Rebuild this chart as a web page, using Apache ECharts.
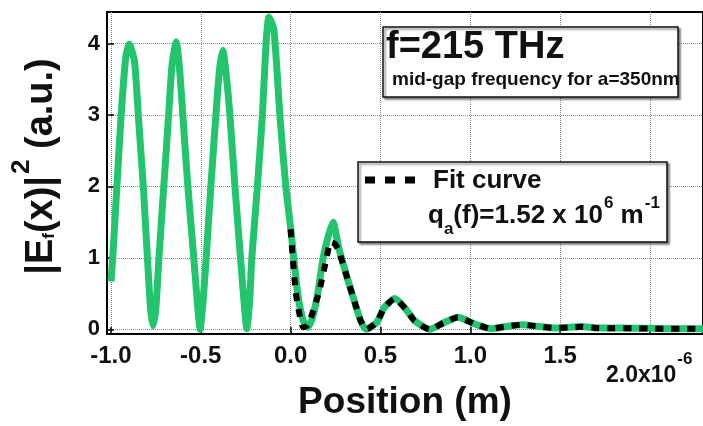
<!DOCTYPE html>
<html><head><meta charset="utf-8">
<script src="https://cdn.jsdelivr.net/npm/echarts@6/dist/echarts.min.js"></script>
<style>html,body{margin:0;padding:0;background:#fff}#c{width:703px;height:426px}</style>
</head><body><div id="c"></div>
<script>
// x in units of 1e-6 m
const xTicks = [-1.0, -0.5, 0.0, 0.5, 1.0, 1.5, 2.0];
const yTicks = [0, 1, 2, 3, 4];
const fieldX = [-1.0,-0.99,-0.967,-0.943,-0.918,-0.898,-0.869,-0.848,-0.82,-0.797,-0.78,-0.766,-0.75,-0.733,-0.706,-0.679,-0.66,-0.637,-0.62,-0.6,-0.572,-0.539,-0.52,-0.504,-0.487,-0.47,-0.444,-0.416,-0.395,-0.377,-0.36,-0.338,-0.31,-0.279,-0.26,-0.244,-0.228,-0.216,-0.185,-0.157,-0.137,-0.121,-0.093,-0.06,-0.027,0.0,0.04,0.07,0.095,0.12,0.15,0.184,0.236,0.269,0.315,0.36,0.39,0.42,0.48,0.52,0.58,0.645,0.69,0.774,0.85,0.932,1.02,1.116,1.2,1.29,1.38,1.475,1.55,1.62,1.7,1.8,1.9,2.0,2.1,2.2,2.3];
const fieldY = [0.67,1.0,2.0,3.0,3.8,3.99,3.75,3.0,2.0,1.0,0.3,0.05,0.3,1.0,2.0,3.0,3.7,4.02,3.7,3.0,2.0,1.0,0.4,0.0,0.4,1.0,2.0,3.0,3.65,3.90,3.6,3.0,2.0,1.0,0.4,0.01,0.4,1.0,2.0,3.0,4.0,4.37,4.19,3.0,2.0,1.42,0.49,0.12,0.03,0.15,0.49,1.04,1.50,1.13,0.72,0.35,0.12,0.0,0.1,0.3,0.43,0.27,0.12,0.0,0.09,0.17,0.08,0.01,0.04,0.065,0.04,0.02,0.03,0.04,0.02,0.02,0.015,0.015,0.01,0.01,0.01];
const fitX = [0.0,0.012,0.03,0.054,0.07,0.09,0.113,0.16,0.196,0.223,0.245,0.269,0.315,0.36,0.39,0.42,0.48,0.52,0.58,0.645,0.69,0.774,0.85,0.932,1.02,1.116,1.2,1.29,1.38,1.475,1.55,1.62,1.7,1.8,1.9,2.0,2.1,2.2,2.3];
const fitY = [1.40,0.99,0.49,0.15,0.03,0.05,0.17,0.54,0.95,1.22,1.2,1.09,0.72,0.35,0.12,0.0,0.1,0.3,0.43,0.27,0.12,0.0,0.09,0.17,0.08,0.01,0.04,0.065,0.04,0.02,0.025,0.035,0.02,0.015,0.015,0.01,0.01,0.01,0.01];

const FONT = 'Liberation Sans, Arial, sans-serif';
const chart = echarts.init(document.getElementById('c'), null, {renderer: 'canvas'});
const pairs = (xs, ys) => xs.map((x, i) => [x, ys[i]]);

chart.setOption({
  animation: false,
  backgroundColor: '#fff',
  grid: {left: 107, top: 12, right: -3, bottom: 85, show: true, borderColor: '#000', borderWidth: 2, backgroundColor: 'transparent'},
  xAxis: {
    type: 'value', min: -1.022, max: 2.295,
    name: 'Position (m)', nameLocation: 'middle', nameGap: 50,
    nameTextStyle: {fontFamily: FONT, fontWeight: 'bold', fontSize: 37, color: '#111'},
    axisLine: {show: true, onZero: false, lineStyle: {color: '#000', width: 2}},
    axisTick: {show: true, inside: true, length: 7, customValues: xTicks, lineStyle: {color: '#000', width: 1.5}},
    axisLabel: {customValues: xTicks, margin: 10, fontFamily: FONT, fontWeight: 'bold', fontSize: 24, color: '#111',
      formatter: v => (Math.abs(v - 2.0) < 1e-9 ? '' : v.toFixed(1))},
    splitLine: {show: true, lineStyle: {type: 'dotted', color: '#8a8a8a', width: 1}}
  },
  yAxis: {
    type: 'value', min: -0.065, max: 4.44,
    axisLine: {show: true, onZero: false, lineStyle: {color: '#000', width: 2}},
    axisTick: {show: true, inside: true, length: 7, customValues: yTicks, lineStyle: {color: '#000', width: 1.5}},
    axisLabel: {customValues: yTicks, margin: 7, fontFamily: FONT, fontWeight: 'bold', fontSize: 22, color: '#111',
      formatter: v => String(Math.round(v))},
    splitLine: {show: true, lineStyle: {type: 'dotted', color: '#8a8a8a', width: 1}}
  },
  series: [
    {type: 'line', name: 'field', data: pairs(fieldX, fieldY), showSymbol: false, smooth: 0.2,
      lineStyle: {color: '#22c46e', width: 7}, z: 2},
    {type: 'line', name: 'Fit curve', data: pairs(fitX, fitY), showSymbol: false, smooth: 0.2,
      lineStyle: {color: '#000', width: 6, type: [8, 8], cap: 'butt'}, z: 3}
  ],
  graphic: [
    {type: 'text', rotation: Math.PI / 2, x: 9, y: 166.5, z: 10,
      style: {text: '{m||E}{s|f}{m|(x)|}{p|2}{m| (a.u.)}', align: 'center', verticalAlign: 'top', fill: '#111',
        rich: {
          m: {fontFamily: FONT, fontWeight: 'bold', fontSize: 38, verticalAlign: 'top', padding: [14, 0, 0, 0], fill: '#111'},
          s: {fontFamily: FONT, fontWeight: 'bold', fontSize: 17, verticalAlign: 'top', padding: [32, 0, 0, 0], fill: '#111'},
          p: {fontFamily: FONT, fontWeight: 'bold', fontSize: 26, verticalAlign: 'top', padding: [0, 0, 0, 2], fill: '#111'}
        }}},
    {type: 'text', x: 606, y: 351, z: 10,
      style: {text: '{m|2.0x10}{p|-6}', align: 'left', verticalAlign: 'top', fill: '#111',
        rich: {
          m: {fontFamily: FONT, fontWeight: 'bold', fontSize: 23, verticalAlign: 'top', padding: [13, 0, 0, 0], fill: '#111'},
          p: {fontFamily: FONT, fontWeight: 'bold', fontSize: 17, verticalAlign: 'top', padding: [0, 0, 0, 1], fill: '#111'}
        }}},
    {type: 'rect', shape: {x: 383, y: 27, width: 295, height: 70}, z: 10,
      style: {fill: '#fff', stroke: '#111', lineWidth: 1.5, shadowColor: 'rgba(0,0,0,0.45)', shadowOffsetX: 2, shadowOffsetY: 2, shadowBlur: 2}},
    {type: 'text', x: 386, y: 48, z: 11,
      style: {text: 'f=215 THz', font: 'bold 38px ' + FONT, fill: '#111', align: 'left', verticalAlign: 'middle'}},
    {type: 'text', x: 392, y: 80, z: 11,
      style: {text: 'mid-gap frequency for a=350nm', font: 'bold 19px ' + FONT, fill: '#111', align: 'left', verticalAlign: 'middle'}},
    {type: 'rect', shape: {x: 358, y: 162, width: 309, height: 80}, z: 10,
      style: {fill: '#fff', stroke: '#111', lineWidth: 1.5, shadowColor: 'rgba(0,0,0,0.45)', shadowOffsetX: 2, shadowOffsetY: 2, shadowBlur: 2}},
    {type: 'line', shape: {x1: 365, y1: 180, x2: 415, y2: 180}, z: 11,
      style: {stroke: '#000', lineWidth: 7, lineDash: [10, 10]}},
    {type: 'text', x: 433, y: 181, z: 11,
      style: {text: 'Fit curve', font: 'bold 26px ' + FONT, fill: '#111', align: 'left', verticalAlign: 'middle'}},
    {type: 'text', x: 428, y: 195, z: 11,
      style: {text: '{m|q}{s|a}{m|(f)=1.52 x 10}{p|6}{m| m}{p|-1}', align: 'left', verticalAlign: 'top', fill: '#111',
        rich: {
          m: {fontFamily: FONT, fontWeight: 'bold', fontSize: 26, verticalAlign: 'top', padding: [8, 0, 0, 0], fill: '#111'},
          s: {fontFamily: FONT, fontWeight: 'bold', fontSize: 17, verticalAlign: 'top', padding: [26, 0, 0, 0], fill: '#111'},
          p: {fontFamily: FONT, fontWeight: 'bold', fontSize: 17, verticalAlign: 'top', padding: [0, 0, 0, 1], fill: '#111'}
        }}}
  ]
});
</script></body></html>
